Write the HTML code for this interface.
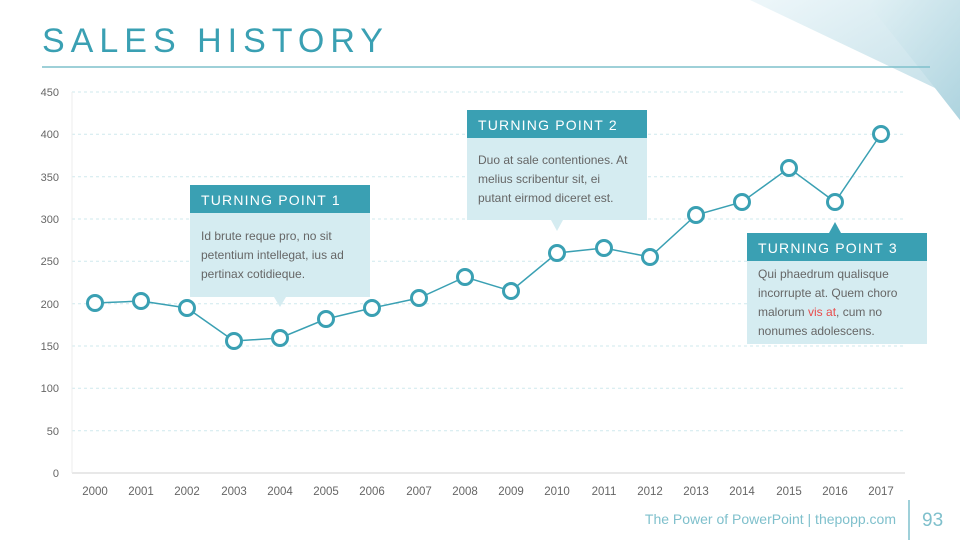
<!DOCTYPE html>
<html><head><meta charset="utf-8"><style>
body{margin:0;width:960px;height:540px;overflow:hidden;background:#fff;font-family:"Liberation Sans",sans-serif;}
</style></head><body>
<svg width="960" height="540" viewBox="0 0 960 540" xmlns="http://www.w3.org/2000/svg" font-family="Liberation Sans, sans-serif">
<defs>
<linearGradient id="g1" x1="0" y1="0" x2="1" y2="1"><stop offset="0" stop-color="#eef7fa"/><stop offset="1" stop-color="#bfdde6"/></linearGradient>
<linearGradient id="g2" x1="0" y1="0" x2="1" y2="1"><stop offset="0" stop-color="#e2f1f5"/><stop offset="1" stop-color="#a9d1dd"/></linearGradient>
</defs>
<polygon points="750,0 960,0 960,120 935,88" fill="url(#g1)"/>
<polygon points="865,0 960,0 960,120 935,88" fill="url(#g2)" opacity="0.8"/>
<text x="42" y="52" font-size="34" fill="#3aa0b3" letter-spacing="6">SALES HISTORY</text>
<line x1="42" y1="67" x2="930" y2="67" stroke="#7fc0cc" stroke-width="1.5"/>
<g stroke="#cfe9ee" stroke-dasharray="3,3" stroke-width="1">
<line x1="72" y1="92" x2="905" y2="92"/><line x1="72" y1="134.3" x2="905" y2="134.3"/><line x1="72" y1="176.7" x2="905" y2="176.7"/><line x1="72" y1="219" x2="905" y2="219"/><line x1="72" y1="261.3" x2="905" y2="261.3"/><line x1="72" y1="303.7" x2="905" y2="303.7"/><line x1="72" y1="346" x2="905" y2="346"/><line x1="72" y1="388.3" x2="905" y2="388.3"/><line x1="72" y1="430.7" x2="905" y2="430.7"/>
</g>
<line x1="72" y1="473" x2="905" y2="473" stroke="#d0d0d0"/>
<line x1="72" y1="92" x2="72" y2="473" stroke="#ececec"/>
<g font-size="11" fill="#666" text-anchor="end">
<text x="59" y="477">0</text><text x="59" y="435">50</text><text x="59" y="392">100</text><text x="59" y="350">150</text><text x="59" y="308">200</text><text x="59" y="265">250</text><text x="59" y="223">300</text><text x="59" y="181">350</text><text x="59" y="138">400</text><text x="59" y="96">450</text>
</g>
<g font-size="11.5" fill="#666" text-anchor="middle">
<text x="95" y="495">2000</text><text x="141" y="495">2001</text><text x="187" y="495">2002</text><text x="234" y="495">2003</text><text x="280" y="495">2004</text><text x="326" y="495">2005</text><text x="372" y="495">2006</text><text x="419" y="495">2007</text><text x="465" y="495">2008</text><text x="511" y="495">2009</text><text x="557" y="495">2010</text><text x="604" y="495">2011</text><text x="650" y="495">2012</text><text x="696" y="495">2013</text><text x="742" y="495">2014</text><text x="789" y="495">2015</text><text x="835" y="495">2016</text><text x="881" y="495">2017</text>
</g>
<polyline fill="none" stroke="#3aa0b3" stroke-width="1.5" points="95,303 141,301 187,308 234,341 280,338 326,319 372,308 419,298 465,277 511,291 557,253 604,248 650,257 696,215 742,202 789,168 835,202 881,134"/>
<g fill="#fff" stroke="#3aa0b3" stroke-width="3">
<circle cx="95" cy="303" r="7.5"/><circle cx="141" cy="301" r="7.5"/><circle cx="187" cy="308" r="7.5"/><circle cx="234" cy="341" r="7.5"/><circle cx="280" cy="338" r="7.5"/><circle cx="326" cy="319" r="7.5"/><circle cx="372" cy="308" r="7.5"/><circle cx="419" cy="298" r="7.5"/><circle cx="465" cy="277" r="7.5"/><circle cx="511" cy="291" r="7.5"/><circle cx="557" cy="253" r="7.5"/><circle cx="604" cy="248" r="7.5"/><circle cx="650" cy="257" r="7.5"/><circle cx="696" cy="215" r="7.5"/><circle cx="742" cy="202" r="7.5"/><circle cx="789" cy="168" r="7.5"/><circle cx="835" cy="202" r="7.5"/><circle cx="881" cy="134" r="7.5"/>
</g>
<rect x="190" y="213" width="180" height="84" fill="#d5ecf1"/>
<polygon points="274,297 286,297 280,307" fill="#d5ecf1"/>
<rect x="190" y="185" width="180" height="28" fill="#3aa0b3"/>
<text x="201" y="205" font-size="14" fill="#fff" letter-spacing="1.2">TURNING POINT 1</text>
<g font-size="12" fill="#666"><text x="201" y="240">Id brute reque pro, no sit</text><text x="201" y="259">petentium intellegat, ius ad</text><text x="201" y="278">pertinax cotidieque.</text></g>
<rect x="467" y="138" width="180" height="82" fill="#d5ecf1"/>
<polygon points="551,220 563,220 557,231" fill="#d5ecf1"/>
<rect x="467" y="110" width="180" height="28" fill="#3aa0b3"/>
<text x="478" y="130" font-size="14" fill="#fff" letter-spacing="1.2">TURNING POINT 2</text>
<g font-size="12" fill="#666"><text x="478" y="164">Duo at sale contentiones. At</text><text x="478" y="183">melius scribentur sit, ei</text><text x="478" y="202">putant eirmod diceret est.</text></g>
<rect x="747" y="261" width="180" height="83" fill="#d5ecf1"/>
<polygon points="829,233 841,233 835,222" fill="#3aa0b3"/>
<rect x="747" y="233" width="180" height="28" fill="#3aa0b3"/>
<text x="758" y="253" font-size="14" fill="#fff" letter-spacing="1.2">TURNING POINT 3</text>
<g font-size="12" fill="#666"><text x="758" y="278">Qui phaedrum qualisque</text><text x="758" y="297">incorrupte at. Quem choro</text><text x="758" y="316">malorum <tspan fill="#e84c4c">vis at</tspan>, cum no</text><text x="758" y="335">nonumes adolescens.</text></g>
<text x="896" y="524" font-size="14" fill="#7fc0cc" text-anchor="end">The Power of PowerPoint | thepopp.com</text>
<line x1="909" y1="500" x2="909" y2="540" stroke="#7fc0cc" stroke-width="1.5"/>
<text x="922" y="526" font-size="19" fill="#7fc0cc">93</text>
</svg>
</body></html>
